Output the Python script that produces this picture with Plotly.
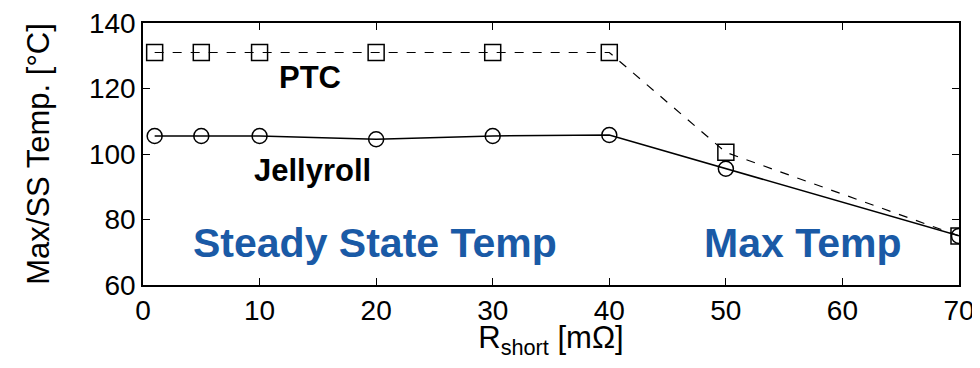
import plotly.graph_objects as go

# data
r_short = [1, 5, 10, 20, 30, 40, 50, 70]
ptc_temp = [131, 131, 131, 131, 131, 131, 100.5, 75]
jellyroll_temp = [105.5, 105.5, 105.5, 104.5, 105.5, 105.8, 95.5, 75]

x_ticks = [0, 10, 20, 30, 40, 50, 60, 70]
y_ticks = [60, 80, 100, 120, 140]

BLUE = '#1a5aa6'

fig = go.Figure()

fig.add_trace(go.Scatter(
    x=r_short, y=ptc_temp, name='PTC',
    mode='lines+markers',
    line=dict(color='black', width=1.2, dash='dash'),
    marker=dict(symbol='square-open', size=16, color='black', line=dict(width=1.5)),
))

fig.add_trace(go.Scatter(
    x=r_short, y=jellyroll_temp, name='Jellyroll',
    mode='lines+markers',
    line=dict(color='black', width=1.5),
    marker=dict(symbol='circle-open', size=15, color='black', line=dict(width=1.5)),
))

# text labels inside the plot
fig.add_annotation(x=14.3, y=123.3, text='<b>PTC</b>', showarrow=False,
                   font=dict(size=31, color='black'))
fig.add_annotation(x=14.5, y=95.0, text='<b>Jellyroll</b>', showarrow=False,
                   font=dict(size=31, color='black'))
fig.add_annotation(x=19.9, y=72.8, text='<b>Steady State Temp</b>', showarrow=False,
                   font=dict(size=41, color=BLUE))
fig.add_annotation(x=56.6, y=72.8, text='<b>Max Temp</b>', showarrow=False,
                   font=dict(size=41, color=BLUE))

axis_common = dict(
    showline=True, linecolor='black', linewidth=1.5, mirror='ticks',
    ticks='inside', ticklen=7, tickwidth=1.2, tickcolor='black',
    showgrid=False, zeroline=False, automargin=False,
    tickfont=dict(size=28, color='black'),
    ticklabeloverflow='allow',
)

fig.update_xaxes(range=[0, 70], tickvals=x_ticks,
                 title=dict(text='R<sub>short</sub> [mΩ]', font=dict(size=31, color='black'), standoff=8),
                 **axis_common)
fig.update_yaxes(range=[60, 140], tickvals=y_ticks,
                 title=dict(text='Max/SS Temp. [°C]', font=dict(size=31, color='black'), standoff=30),
                 **axis_common)

# page body has an 8px margin, so the figure is a bit smaller than the window
fig.update_layout(
    width=972, height=352,
    margin=dict(l=135, r=21, t=15, b=75),
    plot_bgcolor='white', paper_bgcolor='white',
    font=dict(family='Liberation Sans, Arial, sans-serif'),
    showlegend=False,
)

fig.write_html('out.html')
